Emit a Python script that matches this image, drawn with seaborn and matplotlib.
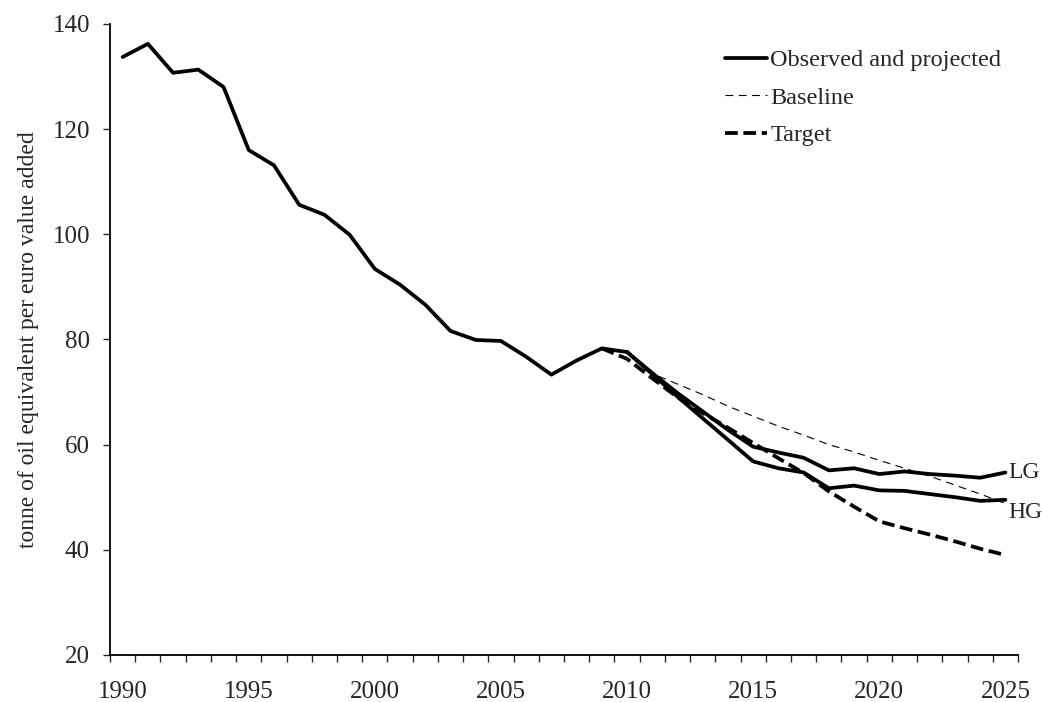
"""
Energy intensity chart: observed, projected (LG / HG), baseline and target
"""
import numpy as np
import pandas as pd
import seaborn as sns
import matplotlib
matplotlib.use('agg')
import matplotlib.pyplot as plt

# observed series 1990-2010
obs_years = list(range(1990, 2011))
obs_values = [133.7, 136.2, 130.7, 131.3, 128.0, 116.0, 113.1, 105.6, 103.7, 99.9,
              93.4, 90.4, 86.6, 81.6, 79.9, 79.7, 76.7, 73.3, 76.0, 78.3, 77.6]

# projections 2010-2025
proj_years = list(range(2010, 2026))
lg_values = [77.6, 73.6, 69.8, 66.3, 62.8, 59.6, 58.5, 57.5, 55.1, 55.5,
             54.4, 54.9, 54.4, 54.1, 53.7, 54.7]
hg_values = [77.6, 73.4, 69.1, 65.0, 60.9, 56.8, 55.5, 54.7, 51.7, 52.2,
             51.3, 51.2, 50.6, 50.0, 49.3, 49.5]
baseline_values = [77.6, 73.5, 71.5, 69.5, 67.3, 65.4, 63.5, 61.8, 60.0, 58.6,
                   57.0, 55.5, 54.0, 52.3, 50.6, 48.8]

target_years = list(range(2009, 2026))
target_values = [78.3, 76.3, 72.6, 69.0, 66.0, 63.2, 60.3, 57.4, 54.6, 51.1,
                 48.2, 45.4, 44.1, 42.9, 41.6, 40.2, 39.0]

tick_years = list(range(1990, 2026, 5))

sns.set_style('white')
plt.rcParams['font.family'] = ['Liberation Serif', 'DejaVu Serif']

fig = plt.figure(figsize=(10.42, 7.02), dpi=100)
ax = fig.add_axes([0.1056, 0.067, 0.8714, 0.899])

obs = pd.DataFrame({'year': obs_years, 'value': obs_values})
proj = pd.DataFrame({'year': proj_years, 'LG': lg_values, 'HG': hg_values,
                     'baseline': baseline_values})
tgt = pd.DataFrame({'year': target_years, 'value': target_values})

sns.lineplot(data=proj, x='year', y='baseline', ax=ax, color='black', linewidth=0.8,
             linestyle=(0, (7, 5)), label='Baseline')
sns.lineplot(data=tgt, x='year', y='value', ax=ax, color='black', linewidth=2.7,
             linestyle=(0, (3.4, 1.5)), label='Target')
sns.lineplot(data=proj, x='year', y='LG', ax=ax, color='black', linewidth=2.7)
sns.lineplot(data=proj, x='year', y='HG', ax=ax, color='black', linewidth=2.7)
sns.lineplot(data=obs, x='year', y='value', ax=ax, color='black', linewidth=2.7,
             label='Observed and projected')

# end labels
ax.annotate('LG', (proj_years[-1], lg_values[-1]), xytext=(2, 0), textcoords='offset points',
            ha='left', va='center', fontsize=17)
ax.annotate('HG', (proj_years[-1], hg_values[-1]), xytext=(2, -9), textcoords='offset points',
            ha='left', va='center', fontsize=17)

ax.set_xlim(1989.5, 2025.5)
ax.set_ylim(20, 140)
ax.set_yticks(range(20, 141, 20))
ax.set_xticks(tick_years)
ax.set_xticks(np.arange(1989.5, 2026, 1), minor=True)
ax.tick_params(axis='x', which='major', length=0, pad=19, labelsize=18)
ax.tick_params(axis='x', which='minor', length=5, width=1, direction='out', bottom=True)
ax.tick_params(axis='y', length=5, width=1, direction='out', left=True, labelsize=18, pad=9.5)
ax.set_xlabel('')
ax.set_ylabel('tonne of oil equivalent per euro value added', fontsize=17, labelpad=10)

for s in ['top', 'right']:
    ax.spines[s].set_visible(False)
for s in ['left', 'bottom']:
    ax.spines[s].set_color('black')
    ax.spines[s].set_linewidth(1.3)

handles, labels = ax.get_legend_handles_labels()
order = [labels.index('Observed and projected'), labels.index('Baseline'), labels.index('Target')]
ax.legend([handles[i] for i in order], [labels[i] for i in order], loc='upper left',
          bbox_to_anchor=(0.677, 0.960), frameon=False, fontsize=17.5, handlelength=1.75,
          handletextpad=0.12, labelspacing=0.64, borderpad=0, borderaxespad=0)

plt.savefig('out.png', dpi=100)
plt.close()
